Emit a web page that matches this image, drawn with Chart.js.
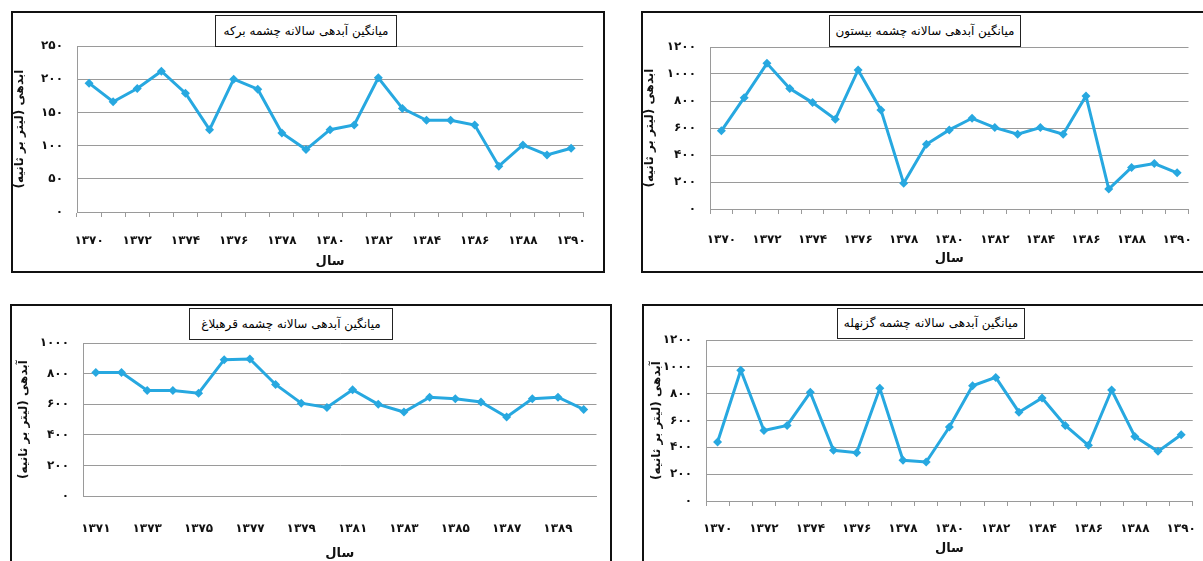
<!DOCTYPE html>
<html>
<head>
<meta charset="utf-8">
<script src="https://cdn.jsdelivr.net/npm/chart.js@4.4.1/dist/chart.umd.min.js"></script>
<style>
  body { margin: 0; background: #fff; width: 1203px; height: 561px; overflow: hidden; position: relative; }
  .box { position: absolute; border: 2px solid #111; box-sizing: border-box; background: #fff; }
  .box canvas { position: absolute; left: 0; top: 0; }
  .ttl { position: absolute; border: 1px solid #222; box-sizing: border-box; text-align: center;
         font-family: "DejaVu Sans", sans-serif; font-size: 12px; color: #000; direction: rtl; white-space: nowrap; background: #fff; }
</style>
</head>
<body>
<div class="box" style="left:11px;top:11px;width:594px;height:262px;">
  <canvas id="c1" width="590" height="258" dir="rtl"></canvas>
  <div class="ttl" style="left:202px;top:2px;width:182px;height:32px;line-height:30px;">میانگین آبدهی سالانه چشمه برکه</div>
</div>
<div class="box" style="left:641px;top:11px;width:572px;height:262px;">
  <canvas id="c2" width="568" height="258" dir="rtl"></canvas>
  <div class="ttl" style="left:186px;top:2px;width:192px;height:32px;line-height:30px;">میانگین آبدهی سالانه چشمه بیستون</div>
</div>
<div class="box" style="left:10px;top:304px;width:602px;height:266px;">
  <canvas id="c3" width="598" height="262" dir="rtl"></canvas>
  <div class="ttl" style="left:177px;top:2px;width:204px;height:32px;line-height:30px;">میانگین آبدهی سالانه چشمه قرهبلاغ</div>
</div>
<div class="box" style="left:642px;top:304px;width:572px;height:266px;">
  <canvas id="c4" width="568" height="262" dir="rtl"></canvas>
  <div class="ttl" style="left:193px;top:2px;width:188px;height:31px;line-height:29px;">میانگین آبدهی سالانه چشمه گزنهله</div>
</div>
<script>
// years (solar hijri)
const years70 = [1370, 1371, 1372, 1373, 1374, 1375, 1376, 1377, 1378, 1379, 1380,
  1381, 1382, 1383, 1384, 1385, 1386, 1387, 1388, 1389, 1390];
const years71 = [1371, 1372, 1373, 1374, 1375, 1376, 1377, 1378, 1379, 1380,
  1381, 1382, 1383, 1384, 1385, 1386, 1387, 1388, 1389, 1390];

// average yearly discharge (litre per second)
const barkeh = [194, 166, 186, 212, 179, 124, 200, 185, 119, 94, 124,
  131, 202, 156, 138, 138, 131, 69, 101, 86, 96];
const bisotun = [579, 825, 1079, 892, 788, 665, 1030, 734, 190, 480, 586,
  672, 603, 554, 603, 554, 837, 148, 308, 337, 268];
const gharehbolagh = [807, 807, 690, 690, 672, 891, 896, 729, 607, 579,
  694, 599, 549, 646, 636, 614, 516, 636, 646, 566];
const gaznahleh = [440, 975, 526, 563, 810, 378, 360, 840, 304, 291, 551,
  859, 921, 662, 768, 563, 415, 827, 481, 370, 494];

const yTitle = "آبدهی (لیتر بر ثانیه)";
const xTitle = "سال";
const lineColor = "#27a8e0";
const gridColor = "#9a9a9a";
const FONT = "DejaVu Sans";

const fa = (n) => String(n).replace(/\d/g, (d) => "۰۱۲۳۴۵۶۷۸۹"[d]);

function makeChart(id, years, values, opt) {
	const config = {
		type: "line",
		data: {
			labels: years.map(fa),
			datasets: [
				{
					data: values,
					borderColor: lineColor,
					backgroundColor: lineColor,
					borderWidth: 3,
					pointStyle: "rectRot",
					pointRadius: 4.5,
					pointBorderWidth: 0,
					tension: 0,
				},
			],
		},
		options: {
			responsive: false,
			animation: false,
			events: [],
			layout: { padding: { top: opt.padTop, right: opt.padRight, left: 0, bottom: 0 } },
			plugins: { legend: { display: false }, tooltip: { enabled: false }, title: { display: false } },
			scales: {
				x: {
					offset: true,
					grid: {
						offset: true,
						drawOnChartArea: false,
						drawTicks: opt.xTicks,
						tickLength: 5,
						color: gridColor,
					},
					border: { color: gridColor },
					ticks: {
						autoSkip: false,
						maxRotation: 0,
						padding: opt.xPad,
						color: "#111",
						font: { family: FONT, size: 12, weight: "bold" },
						callback: function (v, i) {
							return i % 2 === 0 ? this.getLabelForValue(v) : "";
						},
					},
					title: {
						display: true,
						text: xTitle,
						color: "#111",
						font: { family: FONT, size: 13, weight: "bold" },
						padding: { top: 0, bottom: opt.xTitlePad },
					},
					afterFit: (s) => { s.height = opt.xHeight; },
				},
				y: {
					min: 0,
					max: opt.max,
					grid: { color: gridColor, drawTicks: false },
					border: { color: gridColor },
					ticks: {
						stepSize: opt.step,
						padding: 14,
						color: "#111",
						font: { family: FONT, size: 12, weight: "bold" },
						callback: (v) => fa(v),
					},
					title: {
						display: true,
						text: yTitle,
						color: "#111",
						font: { family: FONT, size: 12, weight: "bold" },
						padding: { top: opt.yTitlePad, bottom: 0 },
					},
					afterFit: (s) => { s.width = opt.yWidth; },
				},
			},
		},
	};
	return new Chart(document.getElementById(id).getContext("2d"), config);
}

makeChart("c1", years70, barkeh, {
	max: 250, step: 50, padTop: 33, padRight: 10, yWidth: 64, xHeight: 59,
	xTicks: true, xPad: 17, xTitlePad: 2, yTitlePad: 0,
});
makeChart("c2", years70, bisotun, {
	max: 1200, step: 200, padTop: 34, padRight: 10, yWidth: 67, xHeight: 62,
	xTicks: true, xPad: 19, xTitlePad: 5, yTitlePad: 0,
});
makeChart("c3", years71, gharehbolagh, {
	max: 1000, step: 200, padTop: 37, padRight: 13, yWidth: 71, xHeight: 72,
	xTicks: false, xPad: 26, xTitlePad: 7, yTitlePad: 5,
});
makeChart("c4", years70, gaznahleh, {
	max: 1200, step: 200, padTop: 34, padRight: 8, yWidth: 62, xHeight: 67,
	xTicks: true, xPad: 16, xTitlePad: 12, yTitlePad: 6,
});
</script>
</body>
</html>
